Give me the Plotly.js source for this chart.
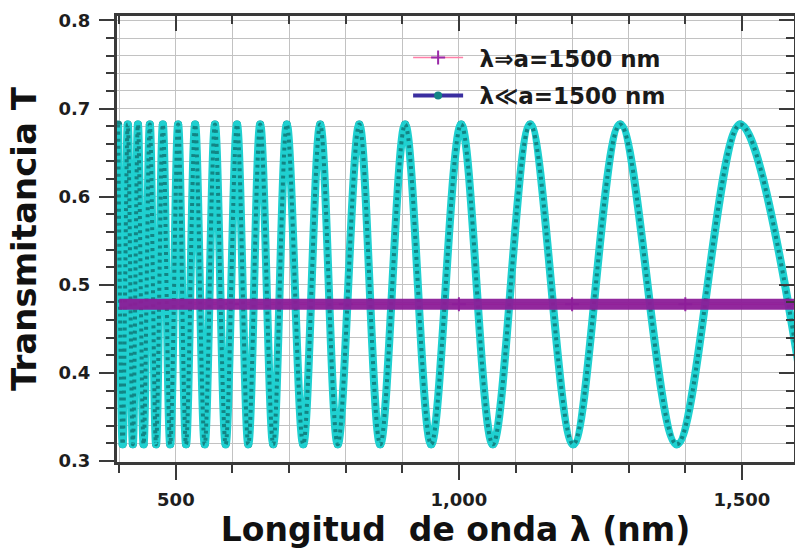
<!DOCTYPE html>
<html>
<head>
<meta charset="utf-8">
<script src="https://cdn.plot.ly/plotly-3.0.1.min.js"></script>
<style>
html,body{margin:0;padding:0;background:#fff;}
#chart{width:795px;height:556px;}
</style>
</head>
<body>
<div id="chart"></div>
<script>
// Wavelengths (nm) and transmittance of peaks and troughs
const peakNm   = [398, 415, 433, 454, 477, 504, 534, 569, 608, 649, 696, 755, 824, 905, 1004, 1126, 1285, 1497];
const peakT    = [0.682,0.682,0.682,0.682,0.682,0.682,0.682,0.682,0.682,0.682,0.682,0.682,0.682,0.682,0.682,0.682,0.682,0.682];
const troughNm = [406, 424, 443, 465, 490, 518, 551, 588, 628, 672, 725, 786, 861, 951, 1060, 1202, 1385, 1622];
const troughT  = [0.319,0.319,0.319,0.319,0.319,0.319,0.319,0.319,0.319,0.319,0.319,0.319,0.319,0.319,0.319,0.319,0.319,0.319];

// Flat series (lambda >> a)
const flatNm = [400, 600, 800, 1000, 1200, 1400, 1600];
const flatT  = [0.478, 0.478, 0.478, 0.478, 0.478, 0.478, 0.478];

const legendNames = ['λ⇒a=1500 nm', 'λ≪a=1500 nm'];
const xTitle = 'Longitud  de onda λ (nm)';
const yTitle = 'Transmitancia T';

// merge extrema into one ordered series
const pts = [];
peakNm.forEach((x,i)=>pts.push([x,peakT[i]]));
troughNm.forEach((x,i)=>pts.push([x,troughT[i]]));
pts.sort((a,b)=>a[0]-b[0]);
const curveX = pts.map(p=>p[0]);
const curveY = pts.map(p=>p[1]);

const FONT = 'DejaVu Sans';
const gridC = '#c2c2c2';
const axC = '#3a3a3a';

const traces = [
  { // legend entry 1 (hidden under band)
    x: flatNm, y: flatT, name: '\u2002' + legendNames[0], type:'scatter', mode:'lines+markers',
    legendgroup:'a',
    line:{color:'#ff7fa8', width:1.5},
    marker:{symbol:'cross-thin', size:10, color:'#9a2aa8', line:{color:'#9a2aa8', width:2}},
    showlegend:true
  },
  { // legend entry 2, dark blue line under cyan
    x: curveX, y: curveY, name: '\u2002' + legendNames[1], type:'scatter', mode:'lines+markers',
    legendgroup:'b',
    line:{color:'#3a2ea0', width:4, shape:'spline', smoothing:1},
    marker:{symbol:'circle', size:8, color:'#138585'},
    showlegend:true
  },
  { // thick cyan curve
    x: curveX, y: curveY, type:'scatter', mode:'lines', hoverinfo:'skip',
    line:{color:'#1fd0d0', width:8, shape:'spline', smoothing:1},
    showlegend:false
  },
  { // dark teal dotted core
    x: curveX, y: curveY, type:'scatter', mode:'lines', hoverinfo:'skip',
    line:{color:'#0f7272', width:4, shape:'spline', smoothing:1, dash:'3px,4px'},
    opacity:0.8,
    showlegend:false
  },
  { // purple band on top
    x: flatNm, y: flatT, type:'scatter', mode:'lines', hoverinfo:'skip',
    xaxis:'x2', yaxis:'y2',
    line:{color:'#8c1c98', width:11},
    opacity:0.95,
    showlegend:false
  }
];

const xr = [396, 1592];
const yr = [0.299, 0.805];
const tickFont = {family:FONT, size:18, color:'#1e1e1e', weight:'bold'};

const layout = {
  width:795, height:556,
  margin:{l:117, r:1, t:16, b:94},
  paper_bgcolor:'#fff', plot_bgcolor:'#fff',
  showlegend:true,
  legend:{x:0.43, y:0.955, xanchor:'left', yanchor:'top', bgcolor:'rgba(0,0,0,0)',
          font:{family:FONT, size:23, color:'#1a1a1a', weight:'bold'}, itemwidth:50,
          traceorder:'grouped', tracegroupgap:5},
  xaxis:{
    range:xr, tick0:0, dtick:500, tickformat:',d',
    ticks:'outside', ticklen:15, tickwidth:2, tickcolor:axC,
    showgrid:true, gridcolor:gridC, gridwidth:1,
    showline:true, linecolor:axC, linewidth:3, mirror:true,
    zeroline:false, tickfont:tickFont, ticklabelstandoff:4,
    minor:{dtick:100, tick0:0, ticks:'outside', ticklen:8, tickwidth:2, tickcolor:axC, showgrid:true, gridcolor:gridC, gridwidth:1},
    title:{text:xTitle, font:{family:FONT, size:33, color:'#111', weight:'bold'}, standoff:6}
  },
  yaxis:{
    range:yr, tick0:0, dtick:0.1, tickformat:'.1f',
    ticks:'outside', ticklen:15, tickwidth:2, tickcolor:axC,
    showgrid:true, gridcolor:gridC, gridwidth:1,
    showline:true, linecolor:axC, linewidth:3, mirror:true,
    zeroline:false, tickfont:tickFont, ticklabelstandoff:5,
    minor:{dtick:0.02, tick0:0, ticks:'outside', ticklen:8, tickwidth:2, tickcolor:axC, showgrid:true, gridcolor:gridC, gridwidth:1},
    title:{text:yTitle, font:{family:FONT, size:34, color:'#111', weight:'bold'}, standoff:12}
  },
  xaxis2:{
    overlaying:'x', side:'top', range:xr, tick0:0, dtick:500,
    ticks:'inside', ticklen:15, tickwidth:2, tickcolor:axC, showticklabels:false,
    showgrid:false, zeroline:false, showline:false,
    minor:{dtick:100, tick0:0, ticks:'inside', ticklen:8, tickwidth:2, tickcolor:axC, showgrid:false}
  },
  yaxis2:{
    overlaying:'y', side:'right', range:yr, tick0:0, dtick:0.1,
    ticks:'inside', ticklen:15, tickwidth:2, tickcolor:axC, showticklabels:false,
    showgrid:false, zeroline:false, showline:false,
    minor:{dtick:0.02, tick0:0, ticks:'inside', ticklen:8, tickwidth:2, tickcolor:axC, showgrid:false}
  }
};

Plotly.newPlot('chart', traces, layout, {displayModeBar:false, staticPlot:true});
</script>
</body>
</html>
